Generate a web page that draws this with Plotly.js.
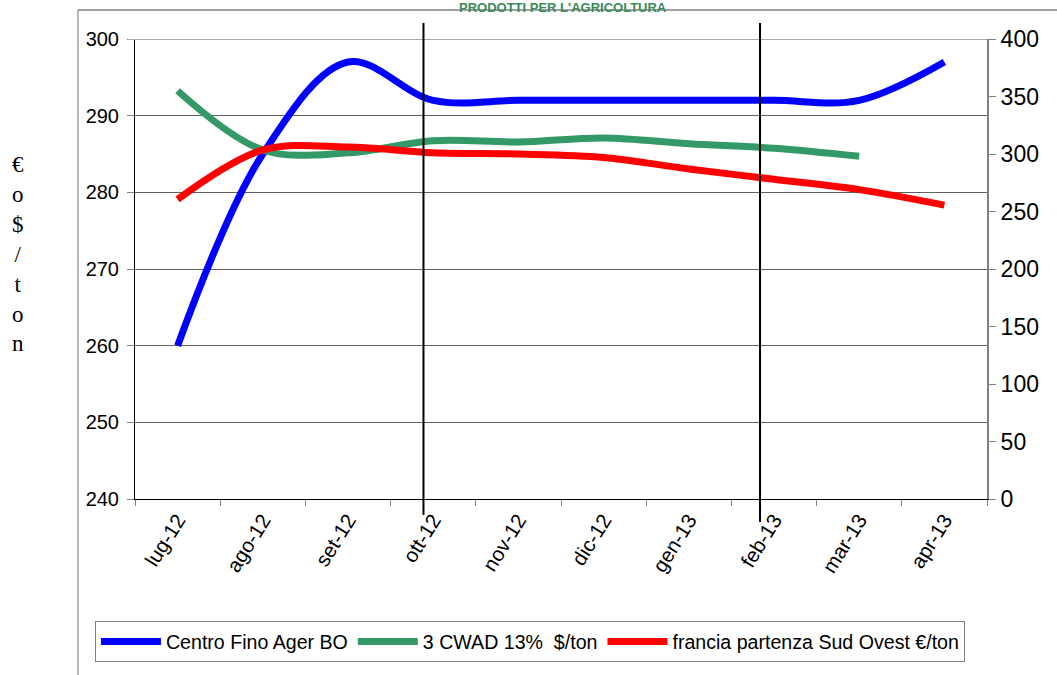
<!DOCTYPE html>
<html>
<head>
<meta charset="utf-8">
<script src="https://cdn.plot.ly/plotly-3.0.1.min.js"></script>
<style>html,body{margin:0;padding:0;background:#fff;}#chart{width:1057px;height:675px;}</style>
</head>
<body>
<div id="chart"></div>
<script>
var categories = ['lug-12','ago-12','set-12','ott-12','nov-12','dic-12','gen-13','feb-13','mar-13','apr-13'];
var centroFino = [260, 285, 297, 292, 292, 292, 292, 292, 292, 297];
var cwad = [355, 303.5, 301, 311.5, 310.5, 314, 309, 305, 298, null];
var francia = [260.5, 303.5, 306, 301, 300, 297, 287, 278, 269, 255.5];
var leftTicks = [240, 250, 260, 270, 280, 290, 300];
var rightTicks = [0, 50, 100, 150, 200, 250, 300, 350, 400];

var FONT = 'Arial, "Liberation Sans", sans-serif';

var traces = [
  {x: categories, y: centroFino, name: 'Centro Fino Ager BO', type: 'scatter', mode: 'lines',
   line: {color: '#0000FF', width: 7, shape: 'spline', smoothing: 1}, yaxis: 'y'},
  {x: categories, y: cwad, name: '3 CWAD 13%\u00a0 $/ton', type: 'scatter', mode: 'lines',
   line: {color: '#339966', width: 7, shape: 'spline', smoothing: 1}, yaxis: 'y2'},
  {x: categories, y: francia, name: 'francia partenza Sud Ovest \u20ac/ton', type: 'scatter', mode: 'lines',
   line: {color: '#FF0000', width: 7, shape: 'spline', smoothing: 1}, yaxis: 'y2'}
];

var layout = {
  width: 1057, height: 675,
  margin: {l: 135, r: 70, t: 39, b: 176, pad: 0},
  paper_bgcolor: '#ffffff', plot_bgcolor: '#ffffff',
  font: {family: FONT, color: '#000'},
  showlegend: true,
  legend: {orientation: 'h', x: -0.047, y: -0.266, xanchor: 'left', yanchor: 'top',
    bordercolor: '#808080', borderwidth: 1, font: {family: FONT, size: 19.6, color: '#000'},
    itemwidth: 60, tracegroupgap: 0},
  xaxis: {type: 'category', range: [-0.5, 9.5], tickson: 'boundaries', ticks: 'outside', ticklen: 6,
    tickcolor: '#808080', showline: true, linecolor: '#000', linewidth: 1, showgrid: false,
    tickangle: -58, tickfont: {family: FONT, size: 20.5, color: '#000'}, zeroline: false, fixedrange: true},
  yaxis: {range: [240, 300], tickvals: leftTicks, ticktext: leftTicks.map(String), ticks: 'outside', ticklen: 7,
    tickcolor: '#808080', showline: true, linecolor: '#000', linewidth: 1, showgrid: true,
    gridcolor: '#606060', gridwidth: 1, zeroline: false, tickfont: {family: FONT, size: 20, color: '#000'},
    ticklabelstandoff: 4},
  yaxis2: {range: [0, 400], tickvals: rightTicks, ticktext: rightTicks.map(String), overlaying: 'y', side: 'right',
    ticks: 'outside', ticklen: 7, tickcolor: '#808080', showline: true, linecolor: '#808080', linewidth: 2,
    showgrid: false, zeroline: false, tickfont: {family: FONT, size: 23, color: '#000'}},
  shapes: [
    {type: 'line', xref: 'paper', yref: 'paper', x0: -0.0669, x1: -0.0669, y0: 1.063, y1: -0.39,
     line: {color: '#a0a0a0', width: 1.5}},
    {type: 'line', xref: 'paper', yref: 'paper', x0: -0.0669, x1: 1.1, y0: 1.063, y1: 1.063,
     line: {color: '#808080', width: 1.5}},
    {type: 'line', xref: 'paper', yref: 'y', x0: -0.0082, x1: 1, y0: 300, y1: 300,
     line: {color: '#a8a8a8', width: 2}},
    {type: 'line', xref: 'paper', yref: 'paper', x0: 0.3386, x1: 0.3386, y0: 1.0348, y1: -0.0348,
     line: {color: '#000', width: 2}},
    {type: 'line', xref: 'paper', yref: 'paper', x0: 0.7336, x1: 0.7336, y0: 1.0348, y1: -0.05,
     line: {color: '#000', width: 2}}
  ],
  annotations: [
    {xref: 'paper', yref: 'paper', x: (18 - 135) / 852, y: (499 - 254) / 460, xanchor: 'center', yanchor: 'middle',
     text: '\u20ac<br>o<br>$<br>/<br>t<br>o<br>n', showarrow: false, align: 'center',
     font: {family: '"Liberation Serif", "Times New Roman", serif', size: 23, color: '#000'}},
    {xref: 'paper', yref: 'paper', x: (563 - 135) / 852, y: (499 + 1) / 460, xanchor: 'center', yanchor: 'top',
     text: '<b>PRODOTTI PER L\'AGRICOLTURA</b>', showarrow: false, borderpad: 0,
     font: {family: FONT, size: 13, color: '#3a8a5a'}}
  ]
};

Plotly.newPlot('chart', traces, layout, {displayModeBar: false, staticPlot: true});
</script>
</body>
</html>
